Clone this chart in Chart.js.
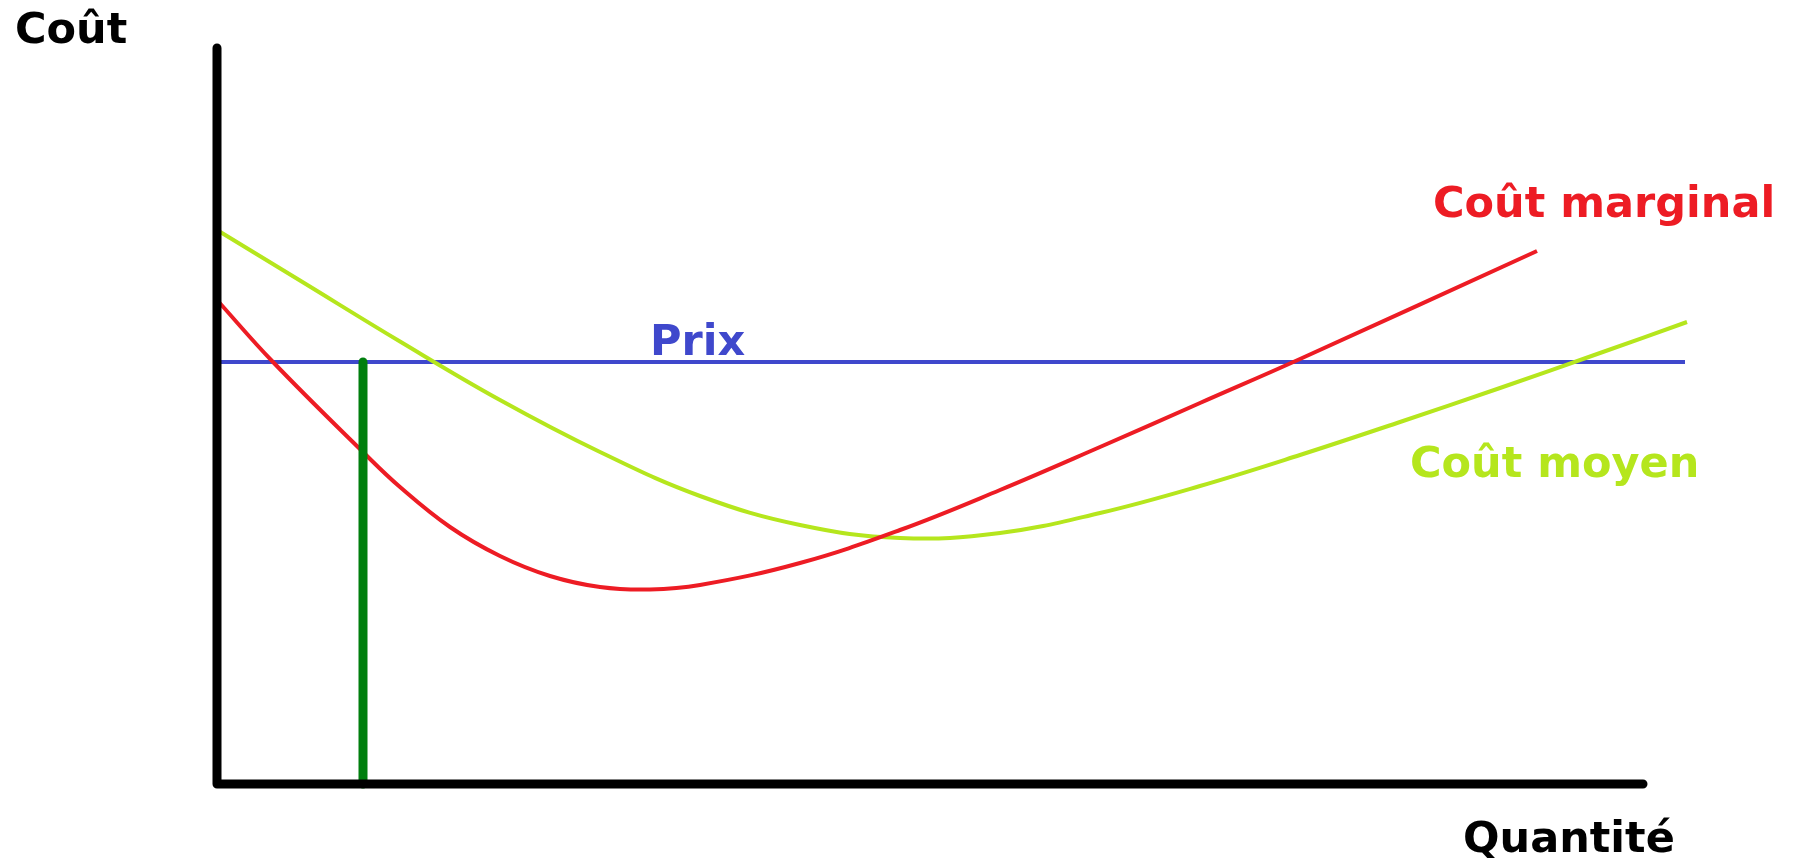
<!DOCTYPE html>
<html>
<head>
<meta charset="utf-8">
<script src="https://cdn.jsdelivr.net/npm/chart.js@4/dist/chart.umd.min.js"></script>
<style>
html,body{margin:0;padding:0;background:#fff;}
#wrap{width:1797px;height:864px;position:relative;}
</style>
</head>
<body>
<div id="wrap"><canvas id="c"></canvas></div>
<script>
// Quantity (x) and cost (y)
const coutMarginalX = [0, 5.6, 14.6, 18.3, 23.3, 28.3, 33.3, 38.3, 43.3, 48.3, 58.3, 68.3, 78.3, 88.3, 98.3, 108.3, 132];
const coutMarginalY = [48.4, 42.2, 33.2, 29.7, 25.7, 22.8, 20.8, 19.7, 19.45, 19.9, 22.1, 25.4, 29.4, 33.7, 38.1, 42.5, 53.3];
const coutMoyenX = [0, 8.3, 18.3, 28.3, 38.3, 48.3, 58.3, 68.3, 78.3, 88.3, 98.3, 108.3, 118.3, 128.3, 138.3, 147];
const coutMoyenY = [55.4, 50.35, 44.25, 38.4, 33.2, 28.8, 25.9, 24.6, 25.1, 27.1, 29.8, 32.9, 36.2, 39.6, 43.1, 46.2];
const prix = 42.2;
const prixRange = [0, 146.8];
const quantiteChoisie = 14.6;     // green vertical line
const axisXMax = 142.6;
const axisYMax = 73.6;

const labels = [
  {text: 'Coût', x: -20.2, y: 74.1, color: '#000000'},
  {text: 'Quantité', x: 124.6, y: -6.8, color: '#000000'},
  {text: 'Prix', x: 43.3, y: 42.9, color: '#3f48cc'},
  {text: 'Coût marginal', x: 121.6, y: 56.7, color: '#ed1c24'},
  {text: 'Coût moyen', x: 119.3, y: 30.7, color: '#b5e61d'}
];

const zip = (xs, ys) => xs.map((x, i) => ({x, y: ys[i]}));

const labelPlugin = {
  id: 'labels',
  afterDatasetsDraw(chart) {
    const {ctx, scales} = chart;
    ctx.save();
    ctx.font = 'bold 43px "DejaVu Sans"';
    ctx.textAlign = 'left';
    ctx.textBaseline = 'alphabetic';
    labels.forEach(l => {
      ctx.fillStyle = l.color;
      ctx.fillText(l.text, scales.x.getPixelForValue(l.x), scales.y.getPixelForValue(l.y));
    });
    ctx.restore();
  }
};

new Chart(document.getElementById('c'), {
  type: 'line',
  data: {
    datasets: [
      {label: 'axes', data: [{x: 0, y: axisYMax}, {x: 0, y: 0}, {x: axisXMax, y: 0}],
       borderColor: '#000000', borderWidth: 9, borderCapStyle: 'round', borderJoinStyle: 'round',
       pointRadius: 0, tension: 0, order: 0, clip: false},
      {label: 'quantité', data: [{x: quantiteChoisie, y: 0}, {x: quantiteChoisie, y: prix}],
       borderColor: '#007f0e', borderWidth: 9, borderCapStyle: 'round',
       pointRadius: 0, tension: 0, order: 1, clip: false},
      {label: 'Coût marginal', data: zip(coutMarginalX, coutMarginalY),
       borderColor: '#ed1c24', borderWidth: 4, tension: 0.4,
       pointRadius: 0, order: 2, clip: false},
      {label: 'Coût moyen', data: zip(coutMoyenX, coutMoyenY),
       borderColor: '#b5e61d', borderWidth: 4, tension: 0.4,
       pointRadius: 0, order: 3, clip: false},
      {label: 'Prix', data: [{x: prixRange[0], y: prix}, {x: prixRange[1], y: prix}],
       borderColor: '#3f48cc', borderWidth: 4,
       pointRadius: 0, tension: 0, order: 4, clip: false}
    ]
  },
  options: {
    responsive: true,
    maintainAspectRatio: false,
    animation: false,
    devicePixelRatio: 1,
    layout: {padding: {left: 217, right: 100, top: 24, bottom: 80}},
    plugins: {legend: {display: false}, tooltip: {enabled: false}},
    scales: {
      x: {type: 'linear', min: 0, max: 148, display: false},
      y: {type: 'linear', min: 0, max: 76, display: false}
    }
  },
  plugins: [labelPlugin]
});
</script>
</body>
</html>
